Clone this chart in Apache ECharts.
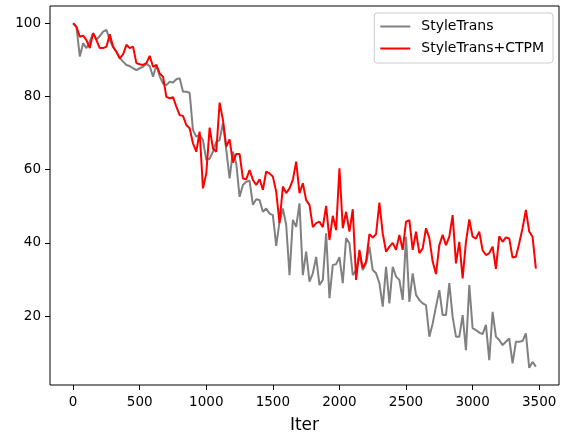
<!DOCTYPE html>
<html>
<head>
<meta charset="utf-8">
<script src="https://cdn.jsdelivr.net/npm/echarts@6/dist/echarts.min.js"></script>
<style>html,body{margin:0;padding:0;background:#fff}#c{width:562px;height:432px}</style>
</head>
<body>
<div id="c"></div>
<script>
const iters = [
0,25,50,75,100,125,150,175,200,225,
250,275,300,325,350,375,400,425,450,475,
500,525,550,575,600,625,650,675,700,725,
750,775,800,825,850,875,900,925,950,975,
1000,1025,1050,1075,1100,1125,1150,1175,1200,1225,
1250,1275,1300,1325,1350,1375,1400,1425,1450,1475,
1500,1525,1550,1575,1600,1625,1650,1675,1700,1725,
1750,1775,1800,1825,1850,1875,1900,1925,1950,1975,
2000,2025,2050,2075,2100,2125,2150,2175,2200,2225,
2250,2275,2300,2325,2350,2375,2400,2425,2450,2475,
2500,2525,2550,2575,2600,2625,2650,2675,2700,2725,
2750,2775,2800,2825,2850,2875,2900,2925,2950,2975,
3000,3025,3050,3075,3100,3125,3150,3175,3200,3225,
3250,3275,3300,3325,3350,3375,3400,3425,3450,3475];

const styleTrans = [
100,99,90.9,94.5,93.2,95,97.3,95.5,96.5,97.7,
98.2,95.4,93.5,92.2,90.5,89.5,88.6,88.3,87.7,87.2,
87.7,88.1,88.9,88.3,85.4,88.6,85.5,83.5,83.1,84,
83.8,84.7,85,81.3,81.3,81,70.8,69,69.5,68.1,
62.7,63,64.9,67.6,68.1,72.7,65.4,57.6,64.9,61.7,
52.6,55.8,56.7,57,50.4,51.9,51.7,48.5,49.4,48,
47.6,39.2,45.8,49.4,44.9,31.2,46.3,44.4,50.8,31.2,
37.6,29.4,31.7,36.2,28.5,29.9,42.6,24.9,34,34.2,
36.1,29,41.3,39.9,31.2,32.6,36.7,32.6,34.4,39,
32.6,31.7,29,22.6,33.5,23.5,33.5,30.8,29.9,24.4,
41.7,23.9,31.7,25.8,24.4,23.5,23,14.4,18,22.6,
27.1,20.3,20.3,29,19.8,14.4,14.4,20.3,10.7,28.5,
16.7,16.2,15.5,15.1,17.6,8,21.2,14.4,13.5,12.1,
13,13.9,7.1,13,13,13.2,15.3,5.9,7.5,6.2];

const styleTransCTPM = [
100,99,96.3,96.6,95.4,93.2,97.3,95.4,93.2,93.2,
93.6,97,93.6,92.2,90.4,91.5,94.1,93.2,93.6,89.1,
88.8,88.6,89.1,91.1,88.1,88.6,86.3,85.4,79.9,79.5,
79.8,77.2,74.9,74.7,72.2,71.3,67.2,64.9,70.4,54.9,
59,71.5,65.8,64.9,78.3,73.6,66.3,68.3,61.9,64.3,
64.3,57.6,57.4,59.9,57.2,55.8,57.4,54.5,59.5,59,
58.1,54,45.4,55.4,53.6,54.9,57.2,62.2,53.6,56.3,
51.7,50.4,44.3,45.4,45.8,44.3,50.1,40.8,47.4,43.5,
60.4,44,48.5,43.1,49.2,29.9,38.1,33.1,34.9,42.4,
41.5,42.4,51,42.6,37.6,39,40,38.1,42.2,38.1,
45.8,46.2,38.1,43.1,37.2,38.5,44,41.3,34.9,31.5,
39.4,42.2,39.4,41.7,47.6,34.4,40.3,30.3,40.3,46.4,
41.7,41.2,43.1,38,36.7,37.2,39,32.9,41.8,40.3,
41.5,41.2,36,36.2,39.9,44,49,43.1,41.7,33];

const xTicks = [0,500,1000,1500,2000,2500,3000,3500];
const yTicks = [20,40,60,80,100];
const seriesNames = ['StyleTrans','StyleTrans+CTPM'];

const FONT = 'DejaVu Sans';
const plain = v => String(v);
const chart = echarts.init(document.getElementById('c'), null, {renderer:'canvas'});
chart.setOption({
  animation:false,
  backgroundColor:'#fff',
  grid:{left:50,right:3,top:6,bottom:47,containLabel:false,outerBoundsMode:'none',show:true,borderColor:'#000',borderWidth:1,backgroundColor:'transparent'},
  legend:{
    right:9, top:13, orient:'vertical',
    data:seriesNames.map(n=>({name:n,icon:'rect'})),
    itemWidth:30, itemHeight:2, itemGap:5,
    padding:[5,9,6,6],
    backgroundColor:'rgba(255,255,255,0.8)', borderColor:'#cccccc', borderWidth:1, borderRadius:3,
    textStyle:{fontFamily:FONT,fontSize:14,color:'#000',padding:[0,0,0,6],lineHeight:17}
  },
  xAxis:{
    type:'value', min:-173.75, max:3648.75,
    name:'Iter', nameLocation:'middle', nameGap:32,
    nameTextStyle:{fontFamily:FONT,fontSize:17,color:'#000'},
    axisLine:{show:false,onZero:false},
    axisTick:{show:true,length:5,customValues:xTicks,lineStyle:{color:'#000',width:1}},
    axisLabel:{customValues:xTicks,formatter:plain,margin:10,fontFamily:FONT,fontSize:13.5,color:'#000'},
    splitLine:{show:false}
  },
  yAxis:{
    type:'value', min:1.2, max:104.7,
    axisLine:{show:false,onZero:false},
    axisTick:{show:true,length:5,customValues:yTicks,lineStyle:{color:'#000',width:1}},
    axisLabel:{customValues:yTicks,formatter:plain,margin:9,fontFamily:FONT,fontSize:13.5,color:'#000'},
    splitLine:{show:false}
  },
  series:[
    {name:seriesNames[0],type:'line',symbol:'none',showSymbol:false,
     data:iters.map((x,i)=>[x,styleTrans[i]]),
     lineStyle:{color:'#808080',width:2},itemStyle:{color:'#808080'}},
    {name:seriesNames[1],type:'line',symbol:'none',showSymbol:false,
     data:iters.map((x,i)=>[x,styleTransCTPM[i]]),
     lineStyle:{color:'#ff0000',width:2},itemStyle:{color:'#ff0000'}}
  ]
});
</script>
</body>
</html>
